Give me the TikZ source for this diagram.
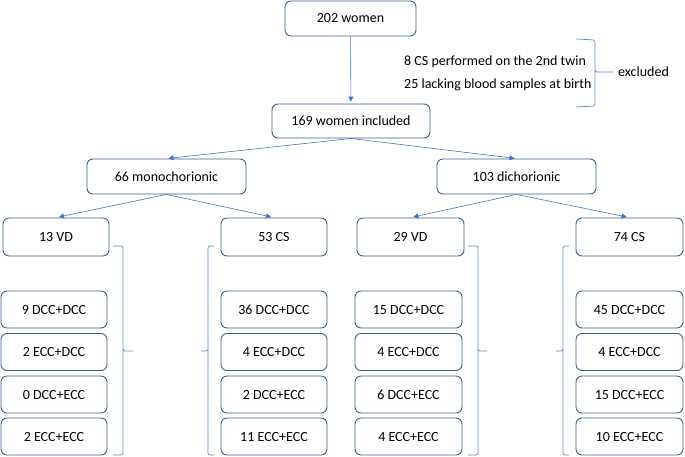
\documentclass[tikz,border=0pt]{standalone}
\usepackage{fontspec}
\setmainfont{Carlito}
\usetikzlibrary{arrows.meta}
\definecolor{boxc}{HTML}{3A5F8F}
\definecolor{arrc}{HTML}{4472C4}
\begin{document}
\begin{tikzpicture}[x=1pt,y=-1pt,
  box/.style={draw=boxc,line width=0.9pt,rounded corners=6pt,inner sep=0pt,
    font=\fontsize{14}{16}\selectfont,minimum height=37pt},
  bigbox/.style={box,minimum height=35pt},
  arr/.style={draw=arrc,line width=0.6pt,-{Triangle[width=5pt,length=5pt]},shorten >=2pt},
  brace/.style={draw=arrc!85,line width=0.7pt,rounded corners=2pt},
  lbl/.style={inner sep=0pt,font=\fontsize{14}{16}\selectfont}]
\useasboundingbox (0,0) rectangle (685,456);

% top level
\node[bigbox,minimum width=131pt] (n202) at (350.5,18.5) {202 women};
\node[bigbox,minimum width=158pt,minimum height=34pt] (n169) at (351,121) {169 women included};
\node[bigbox,minimum width=159pt] (mono) at (166.5,176.5) {66 monochorionic};
\node[bigbox,minimum width=159pt] (di) at (516.5,176.5) {103 dichorionic};

% second level
\node[box,minimum width=106pt,minimum height=38pt] (vd13) at (56,237) {13 VD};
\node[box,minimum width=106pt,minimum height=38pt] (cs53) at (274,237) {53 CS};
\node[box,minimum width=107pt,minimum height=38pt] (vd29) at (410.5,237) {29 VD};
\node[box,minimum width=107pt,minimum height=38pt] (cs74) at (629.5,237) {74 CS};

% exclusion text
\node[lbl,anchor=west] (ex1) at (404,62) {8 CS performed on the 2nd twin};
\node[lbl,anchor=west] (ex2) at (404,85) {25 lacking blood samples at birth};
\node[lbl,anchor=west] (exc) at (618,72) {excluded};

% arrows
\draw[arr] (n202) -- (n169);
\draw[arr] (n169.south) -- (mono.north);
\draw[arr] (n169.south) -- (di.north);
\draw[arr,shorten >=3pt] (mono.south) -- (vd13.north);
\draw[arr,shorten >=3pt] (mono.south) -- (cs53.north);
\draw[arr,shorten >=3pt] (di.south) -- (vd29.north);
\draw[arr,shorten >=3pt] (di.south) -- (cs74.north);

% small boxes
\foreach \c/\cx/\w/\a/\b/\cc/\d in {
  a/54/106/9 DCC+DCC/2 ECC+DCC/0 DCC+ECC/2 ECC+ECC,
  b/274/106/36 DCC+DCC/4 ECC+DCC/2 DCC+ECC/11 ECC+ECC,
  c/408.5/107/15 DCC+DCC/4 ECC+DCC/6 DCC+ECC/4 ECC+ECC,
  d/629.5/107/45 DCC+DCC/4 ECC+DCC/15 DCC+ECC/10 ECC+ECC} {
  \node[box,minimum width=\w pt] (\c1) at (\cx,309.5) {\a};
  \node[box,minimum width=\w pt] (\c2) at (\cx,352) {\b};
  \node[box,minimum width=\w pt] (\c3) at (\cx,394.5) {\cc};
  \node[box,minimum width=\w pt] (\c4) at (\cx,436.5) {\d};
}

% braces
\draw[brace] (576,39) -- (595,40) -- (595,72) -- (613,72);
\draw[brace] (595,70) -- (595,106) -- (576,107);

\draw[brace] (113,246) -- (123,246) -- (123,351) -- (133,351);
\draw[brace] (123,349) -- (123,455) -- (113,455);

\draw[brace] (214,246) -- (208,246) -- (208,351) -- (201,351);
\draw[brace] (208,349) -- (208,455) -- (214,455);

\draw[brace] (468,246) -- (478,246) -- (478,351) -- (487,351);
\draw[brace] (478,349) -- (478,455) -- (468,455);

\draw[brace] (569,246) -- (563,246) -- (563,351) -- (556,351);
\draw[brace] (563,349) -- (563,455) -- (569,455);
\end{tikzpicture}
\end{document}
